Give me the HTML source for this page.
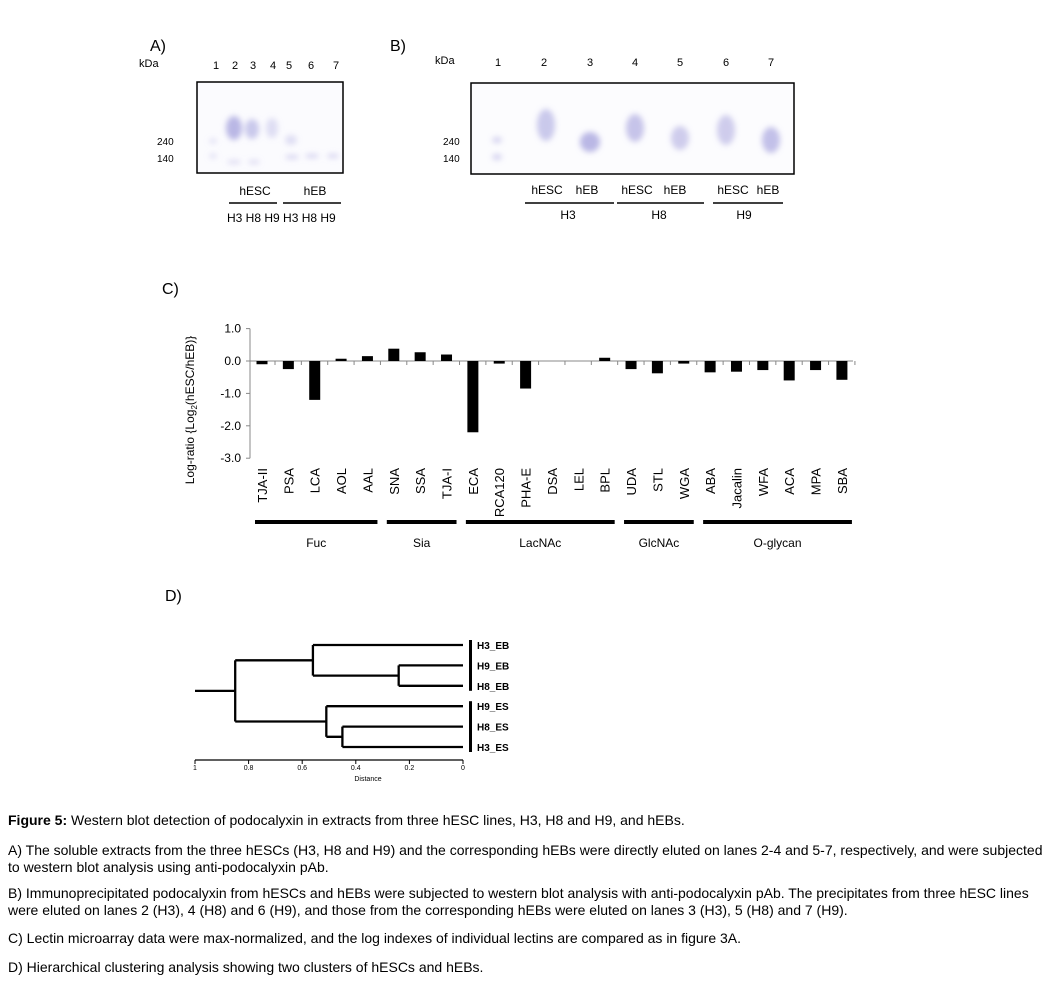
<!DOCTYPE html>
<html><head><meta charset="utf-8"><style>
body{margin:0;background:#fff;width:1051px;height:982px;overflow:hidden;font-family:"Liberation Sans",Arial,sans-serif}
.cap{position:absolute;left:8px;font-size:14px;color:#000;white-space:nowrap}
</style></head><body>
<svg width="1051" height="982" style="position:absolute;left:0;top:0" font-family="Liberation Sans, Arial, sans-serif">
<defs><filter id="bl" x="-50%" y="-50%" width="200%" height="200%"><feGaussianBlur stdDeviation="3"/></filter></defs>
<g>
<text x="150" y="51" font-size="16">A)</text>
<text x="139" y="67" font-size="11">kDa</text>
<g font-size="11" text-anchor="middle"><text x="216" y="69">1</text><text x="235" y="69">2</text><text x="253" y="69">3</text><text x="273" y="69">4</text><text x="289" y="69">5</text><text x="311" y="69">6</text><text x="336" y="69">7</text></g>
<text x="157" y="145" font-size="10">240</text><text x="157" y="162" font-size="10">140</text>
<rect x="197" y="82" width="146" height="91" fill="#fbfbfe" stroke="#000" stroke-width="1.5"/>
<g filter="url(#bl)" fill="#a9a6df">
<ellipse cx="234" cy="128" rx="8" ry="12" opacity="0.8"/><ellipse cx="252" cy="129" rx="7" ry="10" opacity="0.6"/><ellipse cx="272" cy="128" rx="6" ry="10" opacity="0.35"/>
<ellipse cx="291" cy="140" rx="6" ry="5" opacity="0.35"/><ellipse cx="292" cy="157" rx="7" ry="2" opacity="0.5"/><ellipse cx="312" cy="156" rx="7" ry="2" opacity="0.5"/><ellipse cx="333" cy="156" rx="6" ry="2" opacity="0.5"/>
<ellipse cx="234" cy="162" rx="7" ry="2" opacity="0.4"/><ellipse cx="254" cy="162" rx="6" ry="2" opacity="0.4"/><ellipse cx="213" cy="141" rx="4" ry="2" opacity="0.4"/><ellipse cx="213" cy="156" rx="4" ry="2" opacity="0.4"/>
</g>
<g font-size="12" text-anchor="middle"><text x="255" y="195">hESC</text><text x="315" y="195">hEB</text></g>
<line x1="229" y1="203" x2="277" y2="203" stroke="#000" stroke-width="1.5"/><line x1="283" y1="203" x2="341" y2="203" stroke="#000" stroke-width="1.5"/>
<text x="227" y="222" font-size="12">H3 H8 H9  H3 H8 H9</text>
</g>
<g>
<text x="390" y="51" font-size="16">B)</text>
<text x="435" y="64" font-size="11">kDa</text>
<g font-size="11" text-anchor="middle"><text x="498" y="66">1</text><text x="544" y="66">2</text><text x="590" y="66">3</text><text x="635" y="66">4</text><text x="680" y="66">5</text><text x="726" y="66">6</text><text x="771" y="66">7</text></g>
<text x="443" y="145" font-size="10">240</text><text x="443" y="162" font-size="10">140</text>
<rect x="471" y="83" width="323" height="91" fill="#fcfcfe" stroke="#000" stroke-width="1.5"/>
<g filter="url(#bl)" fill="#a9a6df">
<ellipse cx="497" cy="140" rx="5" ry="3" opacity="0.5"/><ellipse cx="497" cy="157" rx="5" ry="3" opacity="0.5"/>
<ellipse cx="546" cy="125" rx="9" ry="16" opacity="0.6"/><ellipse cx="590" cy="142" rx="10" ry="10" opacity="0.8"/>
<ellipse cx="635" cy="128" rx="9" ry="14" opacity="0.65"/><ellipse cx="680" cy="138" rx="9" ry="12" opacity="0.55"/>
<ellipse cx="726" cy="130" rx="9" ry="15" opacity="0.55"/><ellipse cx="771" cy="140" rx="9" ry="13" opacity="0.7"/>
</g>
<g font-size="12" text-anchor="middle"><text x="547" y="194">hESC</text><text x="587" y="194">hEB</text><text x="637" y="194">hESC</text><text x="675" y="194">hEB</text><text x="733" y="194">hESC</text><text x="768" y="194">hEB</text>
<text x="568" y="219">H3</text><text x="659" y="219">H8</text><text x="744" y="219">H9</text></g>
<g stroke="#000" stroke-width="1.5"><line x1="525" y1="203" x2="614" y2="203"/><line x1="617" y1="203" x2="704" y2="203"/><line x1="713" y1="203" x2="783" y2="203"/></g>
</g>
<text x="162" y="294" font-size="16">C)</text>
<g id="chartC"></g>
<text x="165" y="601" font-size="16">D)</text>
<g id="chartD"></g>
</svg>
<div class="cap" style="top:812px"><b>Figure 5:</b> Western blot detection of podocalyxin in extracts from three hESC lines, H3, H8 and H9, and hEBs.</div>
<div class="cap" style="top:842px;line-height:17px">A) The soluble extracts from the three hESCs (H3, H8 and H9) and the corresponding hEBs were directly eluted on lanes 2-4 and 5-7, respectively, and were subjected<br>to western blot analysis using anti-podocalyxin pAb.</div>
<div class="cap" style="top:885px;line-height:17px">B) Immunoprecipitated podocalyxin from hESCs and hEBs were subjected to western blot analysis with anti-podocalyxin pAb. The precipitates from three hESC lines<br>were eluted on lanes 2 (H3), 4 (H8) and 6 (H9), and those from the corresponding hEBs were eluted on lanes 3 (H3), 5 (H8) and 7 (H9).</div>
<div class="cap" style="top:930px">C) Lectin microarray data were max-normalized, and the log indexes of individual lectins are compared as in figure 3A.</div>
<div class="cap" style="top:959px">D) Hierarchical clustering analysis showing two clusters of hESCs and hEBs.</div>
<script>
const lectins=["TJA-II","PSA","LCA","AOL","AAL","SNA","SSA","TJA-I","ECA","RCA120","PHA-E","DSA","LEL","BPL","UDA","STL","WGA","ABA","Jacalin","WFA","ACA","MPA","SBA"];
const logRatios=[-0.1,-0.25,-1.2,0.07,0.15,0.38,0.27,0.2,-2.2,-0.08,-0.85,0,0,0.1,-0.25,-0.38,-0.08,-0.35,-0.33,-0.28,-0.6,-0.28,-0.58];
const yTicks=[1.0,0.0,-1.0,-2.0,-3.0];
const yTickLabels=["1.0","0.0","-1.0","-2.0","-3.0"];
const groupNames=["Fuc","Sia","LacNAc","GlcNAc","O-glycan"];
const groupStart=[0,5,8,14,17];
const groupEnd=[4,7,13,16,22];
const leaves=["H3_EB","H9_EB","H8_EB","H9_ES","H8_ES","H3_ES"];
const mergeHeights=[0.24,0.56,0.45,0.51,0.85];
const distTicks=[1,0.8,0.6,0.4,0.2,0];
const distTickLabels=["1","0.8","0.6","0.4","0.2","0"];
const NS="http://www.w3.org/2000/svg";
function mk(p,t,a,txt){const e=document.createElementNS(NS,t);for(const k in a)e.setAttribute(k,a[k]);if(txt!=null)e.textContent=txt;p.appendChild(e);return e;}
const C=document.getElementById('chartC');
const y=v=>361-v*32.4;
const x=i=>262+i*26.36;
mk(C,'line',{x1:250,y1:y(1),x2:250,y2:y(-3),stroke:'#888','stroke-width':1});
mk(C,'line',{x1:250,y1:y(0),x2:853,y2:y(0),stroke:'#888','stroke-width':1});
yTicks.forEach((t,i)=>{
 mk(C,'line',{x1:246,y1:y(t),x2:250,y2:y(t),stroke:'#888'});
 const e=mk(C,'text',{x:241,y:y(t)+4,'font-size':12,'text-anchor':'end'},yTickLabels[i]);
 
 
});
lectins.forEach((l,i)=>{
 mk(C,'line',{x1:x(i)+13,y1:y(0),x2:x(i)+13,y2:y(0)+4,stroke:'#888'});
 const v=logRatios[i];
 const b=mk(C,'rect',{x:x(i)-5.5,y:Math.min(y(v),y(0)),width:11,height:Math.abs(y(v)-y(0)),fill:'#000'});
 
 
 const t=mk(C,'text',{x:0,y:0,'font-size':13,'text-anchor':'end',transform:`translate(${x(i)+5},468) rotate(-90)`},l);
 
 
});
groupNames.forEach((g,i)=>{
 const x1=x(groupStart[i])-7,x2=x(groupEnd[i])+10;
 const r=mk(C,'rect',{x:x1,y:520,width:x2-x1,height:4,fill:'#000'});
 
 
 const t=mk(C,'text',{x:(x1+x2)/2,y:547,'font-size':12,'text-anchor':'middle'},g);
 
 
});
const yt=mk(C,'text',{x:0,y:0,'font-size':12,'text-anchor':'middle',transform:'translate(194,410) rotate(-90)'});
yt.innerHTML='Log-ratio {Log<tspan font-size="8" dy="3">2</tspan><tspan dy="-3">(hESC/hEB)}</tspan>';


const D=document.getElementById('chartD');
const dx=d=>463-d*268;
const ly=i=>645+i*20.4;
leaves.forEach((l,i)=>{
 const t=mk(D,'text',{x:477,y:ly(i)+4,'font-size':10,'font-weight':'bold'},l);
 
 
});
mk(D,'rect',{x:469,y:ly(0)-5,width:3,height:ly(2)-ly(0)+10,fill:'#000'});
mk(D,'rect',{x:469,y:ly(3)-5,width:3,height:ly(5)-ly(3)+10,fill:'#000'});
const L=(x1,y1,x2,y2)=>mk(D,'line',{x1,y1,x2,y2,stroke:'#000','stroke-width':2.3});
const eb1=(ly(1)+ly(2))/2;
L(dx(0),ly(1),dx(mergeHeights[0]),ly(1));L(dx(0),ly(2),dx(mergeHeights[0]),ly(2));L(dx(mergeHeights[0]),ly(1),dx(mergeHeights[0]),ly(2));
const eb2=(ly(0)+eb1)/2;
L(dx(0),ly(0),dx(mergeHeights[1]),ly(0));L(dx(mergeHeights[0]),eb1,dx(mergeHeights[1]),eb1);L(dx(mergeHeights[1]),ly(0),dx(mergeHeights[1]),eb1);
const es1=(ly(4)+ly(5))/2;
L(dx(0),ly(4),dx(mergeHeights[2]),ly(4));L(dx(0),ly(5),dx(mergeHeights[2]),ly(5));L(dx(mergeHeights[2]),ly(4),dx(mergeHeights[2]),ly(5));
const es2=(ly(3)+es1)/2;
L(dx(0),ly(3),dx(mergeHeights[3]),ly(3));L(dx(mergeHeights[2]),es1,dx(mergeHeights[3]),es1);L(dx(mergeHeights[3]),ly(3),dx(mergeHeights[3]),es1);
L(dx(mergeHeights[1]),eb2,dx(mergeHeights[4]),eb2);L(dx(mergeHeights[3]),es2,dx(mergeHeights[4]),es2);L(dx(mergeHeights[4]),eb2,dx(mergeHeights[4]),es2);
L(dx(1),(eb2+es2)/2,dx(mergeHeights[4]),(eb2+es2)/2);
mk(D,'line',{x1:dx(1),y1:760,x2:dx(0),y2:760,stroke:'#000','stroke-width':1.3});
distTicks.forEach((t,i)=>{
 mk(D,'line',{x1:dx(t),y1:760,x2:dx(t),y2:764,stroke:'#000'});
 const e=mk(D,'text',{x:dx(t),y:770,'font-size':7,'text-anchor':'middle'},distTickLabels[i]);
 
 
});
const xt=mk(D,'text',{x:368,y:781,'font-size':7,'text-anchor':'middle'},'Distance');


</script>
</body></html>
